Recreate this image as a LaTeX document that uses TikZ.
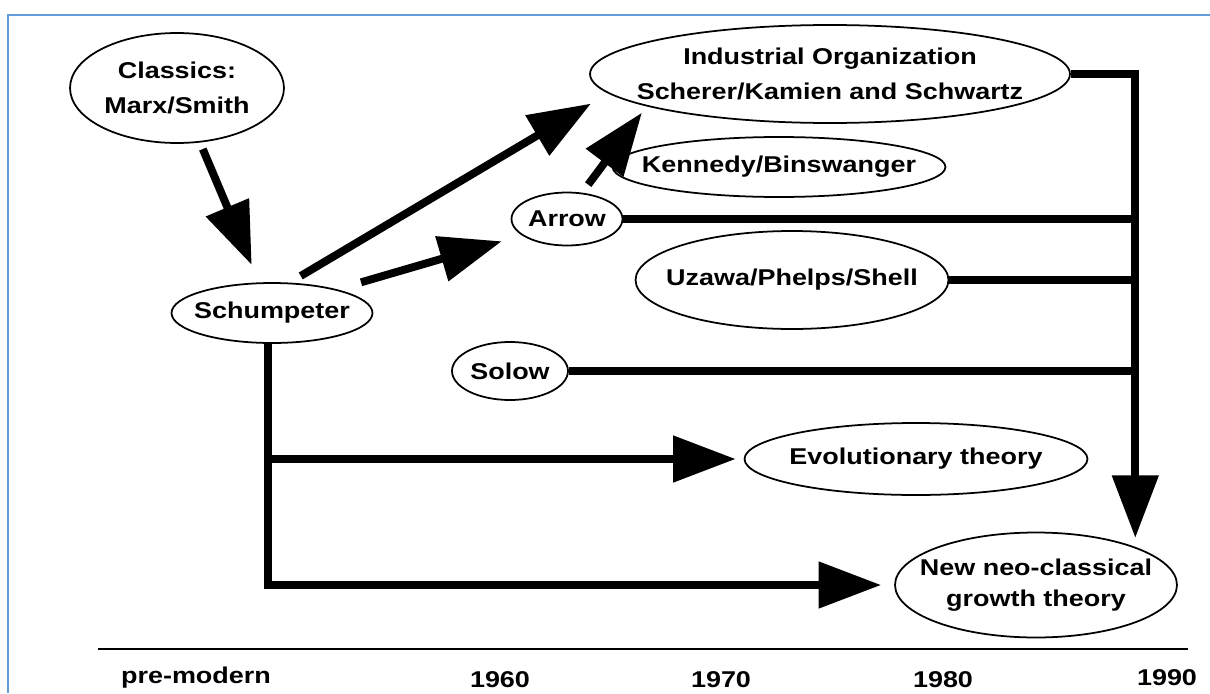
\documentclass[tikz,border=0pt]{standalone}
\usepackage{fontspec}
\setmainfont{Liberation Sans}[FakeStretch=1.18]
\usetikzlibrary{shapes.geometric,arrows.meta}
\definecolor{frameblue}{RGB}{98,158,218}

\begin{document}
\begin{tikzpicture}[x=0.02cm,y=-0.02cm,
  school/.style={draw,ellipse,line width=1pt,inner xsep=-1cm,inner ysep=-1cm,align=center,font=\fontsize{13}{20}\selectfont\bfseries},
  bigarrow/.style={line width=4.5pt,-{Triangle[length=1.25cm,width=0.9cm]}},
  feed/.style={line width=4.5pt},
  year/.style={font=\fontsize{13}{16}\selectfont\bfseries}]
\useasboundingbox (0,0) rectangle (1210,693);

% Frame
\draw[frameblue,line width=1.2pt] (8,693) -- (8,15) -- (1210,15);

% Schools of thought
\node[school,minimum width=4.28cm,minimum height=2.2cm] (classics) at (177,88) {Classics:\\Marx/Smith};
\node[school,minimum width=4.02cm,minimum height=1.2cm] (schumpeter) at (272,313) {Schumpeter};
\node[school,minimum width=9.6cm,minimum height=1.96cm] (io) at (830,74) {Industrial Organization\\Scherer/Kamien and Schwartz};
\node[school,minimum width=6.66cm,minimum height=1.2cm] (kennedy) at (779,167) {Kennedy/Binswanger};
\node[school,minimum width=2.22cm,minimum height=1.06cm] (arrow) at (567,219) {Arrow};
\node[school,minimum width=6.26cm,minimum height=1.96cm] (uzawa) at (792,280) {Uzawa/Phelps/Shell};
\node[school,minimum width=2.32cm,minimum height=1.16cm] (solow) at (510,371) {Solow};
\node[school,minimum width=6.86cm,minimum height=1.44cm] (evo) at (916,459) {Evolutionary theory};
\node[school,minimum width=5.64cm,minimum height=2.1cm,font=\fontsize{13}{17.5}\selectfont\bfseries] (neo) at (1036,585) {New neo-classical\\growth theory};

% Influences
\draw[bigarrow,shorten <=4pt,shorten >=0.38cm] (classics) -- (schumpeter);
\draw[bigarrow,shorten <=0.26cm,shorten >=0.4cm] (schumpeter.60) -- (io.185);
\draw[bigarrow,shorten <=0.5cm,shorten >=0.42cm] (schumpeter.20) -- (arrow.200);
\draw[bigarrow,shorten <=0.2cm,shorten >=0.16cm] (arrow.60) -- (io.190);

% Feeding into the new growth theory
\coordinate (bus) at (1133,74);
\draw[bigarrow,shorten >=0.18cm] (io.east) -| (neo.21.4);
\draw[feed] (arrow.east) -- (arrow.east -| bus);
\draw[feed] (uzawa.east) -- (uzawa.east -| bus);
\draw[feed] (solow.east) -- (solow.east -| bus);

% Schumpeterian line
\draw[bigarrow,shorten >=0.26cm] (schumpeter.262) |- (neo.west);
\draw[bigarrow,shorten >=0.16cm] (schumpeter.262 |- evo.west) -- (evo.west);

% Time axis
\draw[line width=1pt] (98,649) -- (1188,649);
\node[year] (premodern) at (196,678) {pre-modern};
\node[year] (y1960) at (500,680) {1960};
\node[year] (y1970) at (721,680) {1970};
\node[year] (y1980) at (943,680) {1980};
\node[year] (y1990) at (1167,678) {1990};
\end{tikzpicture}
\end{document}
